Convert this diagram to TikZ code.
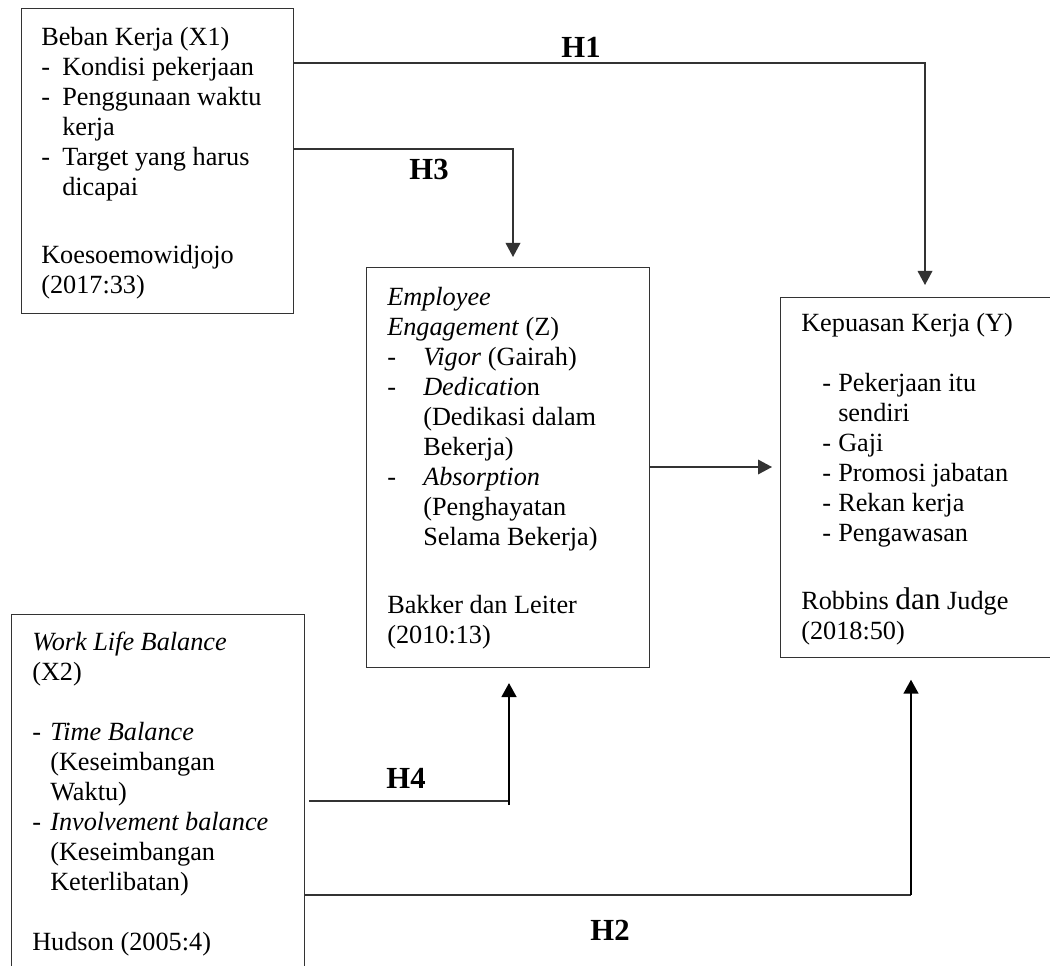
\documentclass[tikz,border=0pt]{standalone}
\usepackage{fontspec}
\setmainfont{Liberation Serif}
\usetikzlibrary{arrows.meta,calc}
\newcommand{\Dl}[2]{\makebox[#1][l]{-}#2}
\newcommand{\Cl}[2]{\hspace*{#1}#2}
\begin{document}
\begin{tikzpicture}[x=0.75pt,y=-0.75pt,
  box/.style={draw=black!80,line width=1pt,rectangle,inner sep=0pt,anchor=north west},
  txt/.style={anchor=north west,inner sep=0pt,align=left,font=\fontsize{19.7}{22.5}\selectfont},
  conn/.style={draw=black!80,line width=1pt},
  arr/.style={conn,-{Triangle[length=10.5pt,width=11pt]}},
  thickarr/.style={draw=black,line width=1.8pt,-{Triangle[length=10.5pt,width=11pt]}},
  hlab/.style={font=\fontsize{23}{27}\selectfont\bfseries,inner sep=0pt}]
\useasboundingbox (0,0) rectangle (1050,966);

% boxes
\node[box,minimum width=204pt,minimum height=228.75pt] (x1) at (21,8) {};
\node[box,minimum width=212.25pt,minimum height=300pt] (z) at (366,267) {};
\node[box,minimum width=213.75pt,minimum height=270pt] (y) at (780,297) {};
\node[box,minimum width=219.75pt,minimum height=278.25pt] (x2) at (11,614) {};

% texts
\node[txt] (tx1) at (41,24) {\strut Beban Kerja (X1)\\
  \Dl{15.75pt}{Kondisi pekerjaan}\\
  \Dl{15.75pt}{Penggunaan waktu}\\
  \Cl{15.75pt}{kerja}\\
  \Dl{15.75pt}{Target yang harus}\\
  \Cl{15.75pt}{dicapai}\\[28.5pt]
  Koesoemowidjojo\\
  (2017:33)};

\node[txt] (tz) at (387,284) {\strut\textit{Employee}\\
  \textit{Engagement} (Z)\\
  \Dl{27pt}{\textit{Vigor} (Gairah)}\\
  \Dl{27pt}{\textit{Dedicatio}n}\\
  \Cl{27pt}{(Dedikasi dalam}\\
  \Cl{27pt}{Bekerja)}\\
  \Dl{27pt}{\textit{Absorption}}\\
  \Cl{27pt}{(Penghayatan}\\
  \Cl{27pt}{Selama Bekerja)}\\[28.5pt]
  Bakker dan Leiter\\
  (2010:13)};

\node[txt] (ty) at (801,310) {\strut Kepuasan Kerja (Y)\\[22.5pt]
  \Cl{15.75pt}{\Dl{12pt}{Pekerjaan itu}}\\
  \Cl{27.75pt}{sendiri}\\
  \Cl{15.75pt}{\Dl{12pt}{Gaji}}\\
  \Cl{15.75pt}{\Dl{12pt}{Promosi jabatan}}\\
  \Cl{15.75pt}{\Dl{12pt}{Rekan kerja}}\\
  \Cl{15.75pt}{\Dl{12pt}{Pengawasan}}\\[28.5pt]
  Robbins {\fontsize{23.5}{22.5}\selectfont dan} Judge\\
  (2018:50)};

\node[txt] (tx2) at (32,629) {\strut\textit{Work Life Balance}\\
  (X2)\\[22.5pt]
  \Dl{13.5pt}{\textit{Time Balance}}\\
  \Cl{13.5pt}{(Keseimbangan}\\
  \Cl{13.5pt}{Waktu)}\\
  \Dl{13.5pt}{\textit{Involvement balance}}\\
  \Cl{13.5pt}{(Keseimbangan}\\
  \Cl{13.5pt}{Keterlibatan)}\\[22.5pt]
  Hudson (2005:4)};

% bend points
\coordinate (h1c) at (925,63);
\coordinate (h3c) at (513,149);
\coordinate (zy) at (700,467);
\coordinate (h4c) at (509,801);
\coordinate (h2c) at (911,895);

% connectors
\draw[arr,shorten >=9pt] (x1.east |- h1c) -- (h1c) -- (h1c |- y.north);
\draw[arr,shorten >=7.5pt] (x1.east |- h3c) -- (h3c) -- (h3c |- z.north);
\draw[arr,shorten >=6pt] (z.east |- zy) -- (y.west |- zy);
\draw[conn] ($(x2.east |- h4c)+(4,0)$) -- (h4c);
\draw[thickarr,shorten <=-3pt,shorten >=11pt] (h4c) -- (h4c |- z.south);
\draw[conn] (x2.east |- h2c) -- (h2c);
\draw[thickarr,shorten >=16pt] (h2c) -- (h2c |- y.south);

% labels
\node[hlab] (l1) at (581,47) {H1};
\node[hlab] (l3) at (429,170) {H3};
\node[hlab] (l4) at (406,778) {H4};
\node[hlab] (l2) at (610,930) {H2};
\end{tikzpicture}
\end{document}
